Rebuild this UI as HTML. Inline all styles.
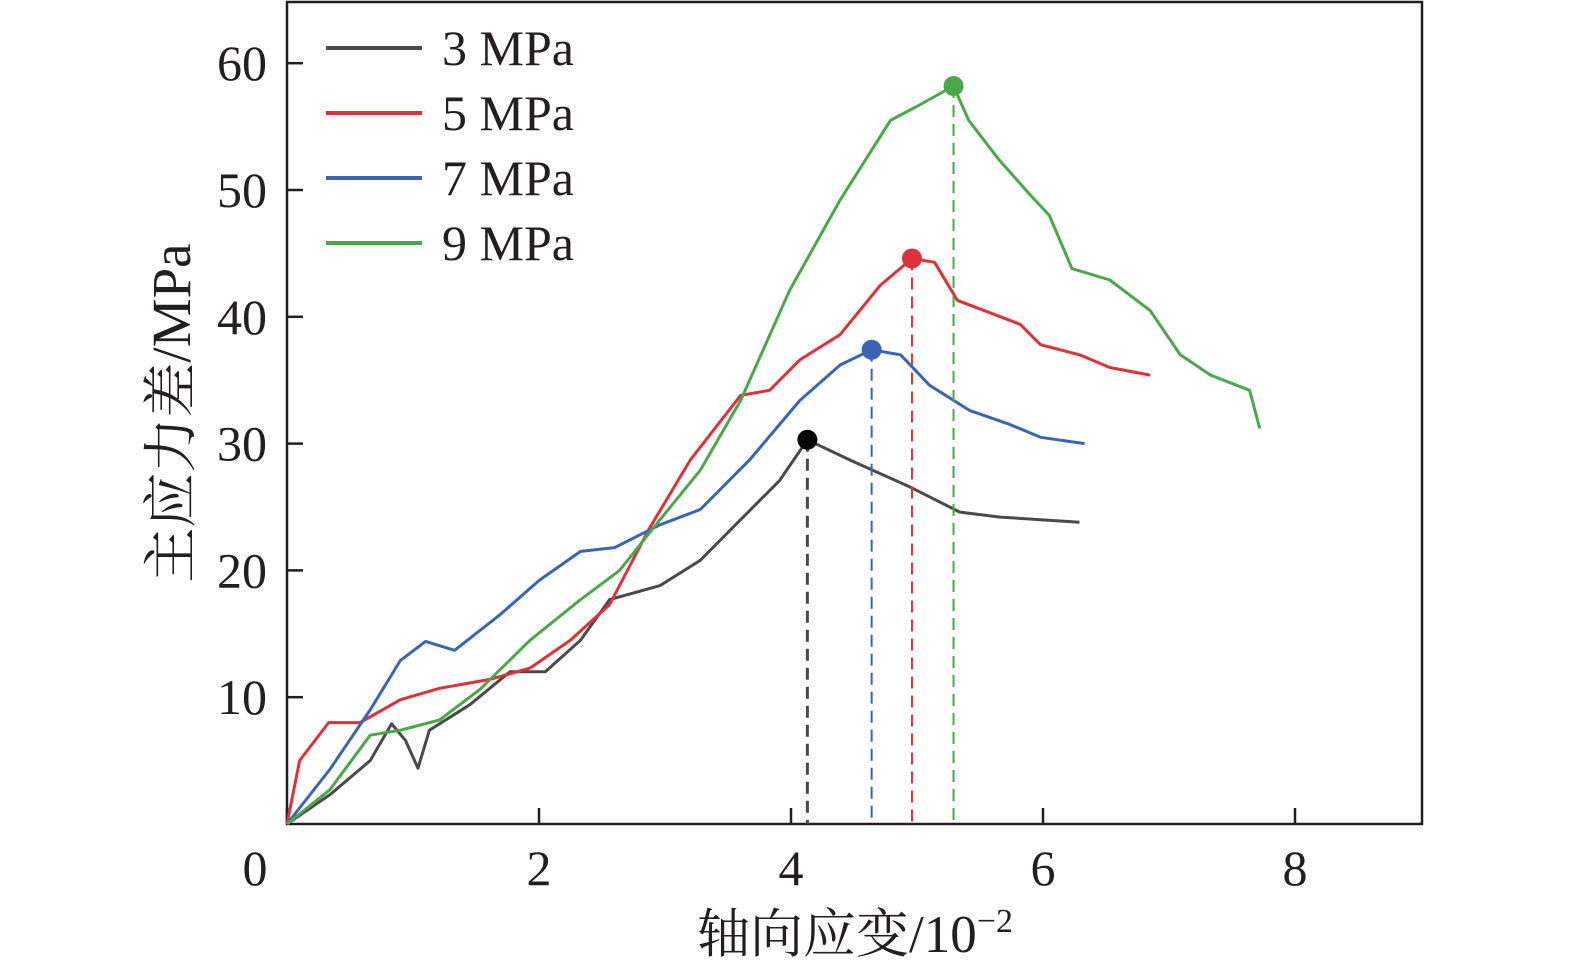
<!DOCTYPE html>
<html><head><meta charset="utf-8"><style>
body{margin:0;background:#fff;}
svg text{font-family:"Liberation Serif","Noto Serif CJK SC",serif;fill:#231f20;}
</style></head><body>
<svg id="chart" width="1575" height="972" viewBox="0 0 1575 972" xmlns="http://www.w3.org/2000/svg"></svg>
<script>
const xTicks=[0,2,4,6,8];
const yTicks=[10,20,30,40,50,60];
const seriesNames=["3 MPa","5 MPa","7 MPa","9 MPa"];
const seriesColors=["#4a4a4c","#e0303a","#3a64b8","#4aa84a"];
const s3x=[0,0.34,0.66,0.83,0.94,1.04,1.13,1.45,1.77,2.05,2.33,2.56,2.96,3.28,3.6,3.91,4.13,4.47,4.94,5.34,5.66,5.98,6.29];
const s3y=[0,2.3,5,7.9,6.6,4.4,7.4,9.4,12,12,14.5,17.7,18.8,20.8,24,27.1,30.3,28.7,26.6,24.6,24.2,24,23.8];
const s5x=[0,0.1,0.33,0.58,0.9,1.21,1.61,1.93,2.25,2.56,2.87,3.2,3.6,3.83,4.07,4.39,4.71,4.96,5.14,5.32,5.82,5.98,6.29,6.53,6.85];
const s5y=[0,5,8,8,9.8,10.7,11.4,12.3,14.5,17.3,23.2,28.7,33.8,34.2,36.6,38.6,42.5,44.6,44.3,41.3,39.4,37.8,37,36,35.4];
const s7x=[0,0.34,0.66,0.9,1.1,1.33,1.69,2.0,2.33,2.6,2.96,3.28,3.67,4.07,4.39,4.64,4.87,5.1,5.42,5.74,5.98,6.33];
const s7y=[0,4.3,9,12.9,14.4,13.7,16.5,19.2,21.5,21.8,23.6,24.8,28.7,33.4,36.2,37.4,37,34.6,32.6,31.5,30.5,30];
const s9x=[0,0.34,0.66,0.9,1.21,1.53,1.93,2.33,2.64,2.96,3.28,3.6,3.99,4.39,4.79,5.02,5.29,5.41,5.65,5.9,6.05,6.23,6.53,6.85,7.09,7.33,7.64,7.72];
const s9y=[0,2.7,7,7.4,8.2,10.6,14.5,17.7,20,24,27.9,33.4,42.1,49.2,55.5,56.7,58.2,55.5,52.4,49.6,48,43.8,42.9,40.5,37,35.4,34.2,31.2];
const peakX=[4.13,4.96,4.64,5.29];
const peakY=[30.3,44.6,37.4,58.2];
const X0=287,X1=1422,Y0=824,Y1=2;
const sx=v=>X0+v*126, sy=v=>Y0-v*12.68;
const svg=document.getElementById('chart');
const NS='http://www.w3.org/2000/svg';
function mk(t,a){const e=document.createElementNS(NS,t);for(const k in a)e.setAttribute(k,a[k]);svg.appendChild(e);return e;}
const frame=mk('rect',{x:X0,y:Y1,width:X1-X0,height:Y0-Y1,fill:'none',stroke:'#231f20','stroke-width':2.5});


xTicks.forEach(v=>{
 const l=mk('line',{x1:sx(v),x2:sx(v),y1:Y0,y2:Y0-16,stroke:'#231f20','stroke-width':2.5});
 
 
 const t=mk('text',{x:sx(v)-(v===0?32:0),y:885,'font-size':50,'text-anchor':'middle'});t.textContent=v;
 
 
});
yTicks.forEach(v=>{
 const l=mk('line',{x1:X0,x2:X0+16,y1:sy(v),y2:sy(v),stroke:'#231f20','stroke-width':2.5});
 
 
 const t=mk('text',{x:267,y:sy(v)+17,'font-size':50,'text-anchor':'end'});t.textContent=v;
 
 
});
const xs=[s3x,s5x,s7x,s9x], ys=[s3y,s5y,s7y,s9y];
for(let i=0;i<4;i++){
 const d=xs[i].map((v,j)=>(j?'L':'M')+sx(v).toFixed(1)+','+sy(ys[i][j]).toFixed(1)).join('');
 const p=mk('path',{d:d,fill:'none',stroke:seriesColors[i],'stroke-width':3,'stroke-linejoin':'round'});
 
 
 const dl=mk('line',{x1:sx(peakX[i]),x2:sx(peakX[i]),y1:sy(peakY[i]),y2:Y0,stroke:seriesColors[i],'stroke-width':i===0?3:2,'stroke-dasharray':'12,7'});
 
 
 const c=mk('circle',{cx:sx(peakX[i]),cy:sy(peakY[i]),r:10,fill:i===0?'#000':seriesColors[i]});
 
 
 const ly=48+65*i;
 const ll=mk('line',{x1:326,x2:422,y1:ly,y2:ly,stroke:seriesColors[i],'stroke-width':4});
 
 
 const lt=mk('text',{x:442,y:ly+17,'font-size':50});lt.textContent=seriesNames[i];
 
 
}
const xl=mk('text',{x:855,y:952,'font-size':53,'text-anchor':'middle'});
xl.innerHTML='轴向应变/10<tspan dy="-20" font-size="34">−2</tspan>';


const yl=mk('text',{x:0,y:0,'font-size':55,'text-anchor':'middle',transform:'translate(190,413) rotate(-90)'});
yl.textContent='主应力差/MPa';


</script>
</body></html>
